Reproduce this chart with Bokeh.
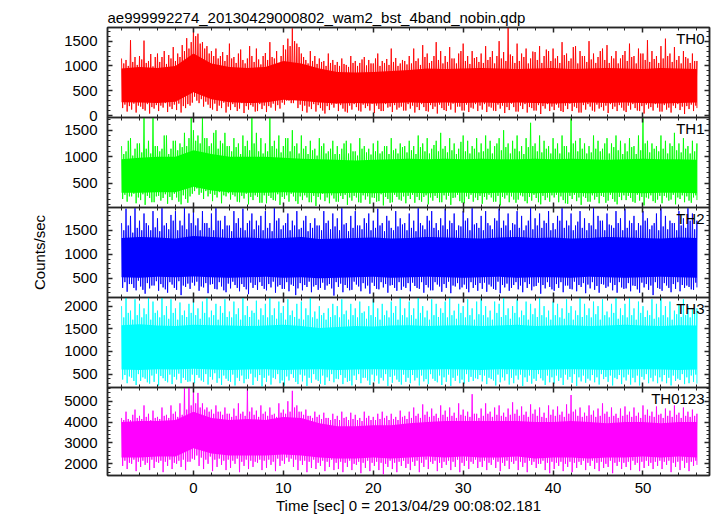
from bokeh.plotting import figure
from bokeh.models import Range1d, LinearAxis, SingleIntervalTicker, Label
from bokeh.layouts import column
from bokeh.embed import file_html
from bokeh.resources import INLINE

TITLE = "ae999992274_20130429000802_wam2_bst_4band_nobin.qdp"
X_LABEL = "Time [sec] 0 = 2013/04/29 00:08:02.181"
Y_LABEL = "Counts/sec"
BANDS = ["TH0", "TH1", "TH2", "TH3", "TH0123"]
COLORS = ["#ff0000", "#00ff00", "#0000ff", "#00ffff", "#ff00ff"]

# time sampling of the envelope values
T_START = -8.0
PEAK_STEP = 0.25
CORE_STEP = 2.0
X_RANGE = (-9.56, 57.4)
Y_RANGES = [(-40, 1775), (40, 1740), (100, 1975), (205, 2190), (1440, 5660)]
Y_TICK = [500, 500, 500, 500, 1000]

# ---- TH0 ----
th0_hi = [1150,1050,1120,1000,1520,1080,1180,1020,1200,1130,1510,1060,1100,1240,990,1180,
          1250,1080,1180,1300,1040,1220,1150,1380,1100,1250,1180,1420,1300,1560,1350,1480,
          1770,1600,1650,1450,1480,1350,1400,1250,1300,1200,1350,1150,1200,1280,1100,1220,
          1450,1150,1180,1060,1250,1330,1120,1050,1150,1400,1200,1080,1350,1130,1030,1200,
          1260,1120,1480,1180,1150,1300,1060,1200,1420,1330,1550,1400,1760,1500,1450,1380,
          1250,1180,1120,1050,1300,1100,1200,1040,1150,1080,1100,1000,1250,1060,1120,1020,
          1080,1000,1150,1040,1020,980,1200,1060,1100,1000,1060,1130,1180,1010,1120,1050,
          1050,1150,1250,1000,1100,1060,1140,1020,1350,1080,1160,1000,1050,1120,1100,1030,
          1200,1050,1350,1100,1150,1020,1420,1180,1250,1060,1100,1200,1480,1120,1300,1050,
          1200,1080,1380,1150,1150,1050,1250,1300,1450,1100,1200,1040,1300,1160,1180,1080,
          1250,1060,1400,1120,1180,1300,1050,1200,1500,1150,1280,1100,1770,1230,1200,1060,
          1450,1100,1250,1180,1350,1050,1150,1290,1280,1120,1400,1060,1200,1330,1300,1100,
          1350,1150,1200,1060,1480,1220,1250,1100,1150,1380,1400,1050,1300,1200,1200,1080,
          1500,1130,1250,1060,1180,1300,1350,1120,1420,1060,1200,1150,1300,1050,1150,1220,
          1300,1100,1450,1180,1200,1050,1350,1250,1250,1120,1520,1080,1300,1140,1200,1060,
          1400,1150,1550,1200,1250,1080,1380,1120,1200,1050,1300,1180,1150,1060,1250,1100,
          1100]
th0_lo = [150,220,80,190,120,240,60,200,180,130,100,230,40,170,140,210,
          90,200,160,250,70,180,130,220,110,240,60,190,150,230,200,260,
          380,300,250,330,180,280,220,150,120,240,90,200,150,260,60,180,
          110,230,170,90,140,250,50,190,120,210,180,80,90,230,130,200,
          70,190,160,240,100,210,140,260,220,300,300,250,250,330,150,220,
          90,200,60,180,130,230,80,210,150,100,40,190,110,220,160,240,
          90,210,140,80,60,200,120,230,170,100,80,220,150,190,100,240,
          50,200,130,90,90,230,160,180,70,210,120,160,180,100,100,230,
          140,200,60,170,110,230,170,90,80,210,130,180,40,220,150,110,
          90,200,120,240,60,180,180,100,100,220,70,160,140,230,90,200,
          120,230,70,180,160,100,90,220,140,200,50,170,110,240,170,80,
          80,200,130,230,60,170,150,100,100,210,30,190,140,230,90,180,
          110,220,160,90,70,200,130,240,90,180,150,60,60,210,120,230,
          180,100,80,220,140,170,100,200,50,230,130,180,90,210,160,100,
          70,200,120,230,150,100,90,190,40,220,140,170,100,230,160,80,
          80,210,120,160,60,200,150,230,110,180,30,190,130,220,90,200,
          150]
th0_core_hi = [950,980,960,1000,1250,1050,980,960,980,1100,1050,950,880,870,880,900,920,
               950,940,950,960,950,940,950,960,940,950,960,950,940,960,950,940]
th0_core_lo = [270,260,250,280,470,330,270,250,260,320,300,260,240,250,240,250,260,
               250,260,250,260,250,260,250,240,250,260,250,260,250,240,250,260]

# ---- TH1 ----
th1_hi = [1200,1050,1100,1300,1350,1020,1150,1250,1250,1080,1730,1150,1300,1060,1730,1200,
          1200,1100,1150,1400,1400,1050,1150,1300,1300,1120,1250,1180,1450,1200,1350,1730,
          1500,1300,1400,1250,1730,1350,1350,1200,1250,1450,1500,1150,1300,1250,1450,1200,
          1200,1100,1350,1180,1250,1050,1400,1200,1300,1120,1730,1250,1450,1100,1350,1060,
          1250,1100,1730,1200,1300,1150,1400,1080,1200,1350,1350,1100,1500,1200,1250,1060,
          1400,1150,1200,1050,1300,1120,1150,1020,1350,1200,1250,1060,1100,1150,1300,1050,
          1200,1050,1150,1250,1300,1060,1250,1100,1100,1020,1350,1150,1200,1080,1150,1040,
          1250,1100,1300,1060,1100,1200,1200,1050,1350,1120,1150,1060,1250,1180,1200,1080,
          1300,1120,1200,1050,1400,1180,1250,1100,1350,1060,1150,1220,1300,1100,1450,1150,
          1200,1080,1350,1120,1250,1050,1150,1280,1400,1100,1300,1060,1200,1150,1350,1080,
          1250,1100,1400,1150,1300,1060,1200,1250,1350,1120,1500,1180,1250,1060,1300,1150,
          1400,1100,1200,1050,1350,1180,1640,1200,1250,1100,1400,1080,1300,1150,1200,1060,
          1350,1150,1250,1060,1400,1200,1200,1080,1730,1250,1300,1100,1350,1150,1250,1060,
          1200,1080,1400,1150,1300,1100,1150,1250,1350,1060,1250,1180,1400,1120,1300,1050,
          1250,1100,1350,1180,1200,1050,1400,1120,1730,1250,1300,1080,1250,1150,1200,1100,
          1400,1150,1300,1060,1250,1200,1450,1120,1250,1080,1350,1150,1200,1060,1300,1100,
          1250]
th1_lo = [200,280,150,250,250,300,120,230,180,290,90,260,220,140,140,250,
          260,170,220,290,110,240,180,300,230,150,100,270,200,130,250,300,
          350,400,280,320,200,350,250,300,160,280,230,330,120,270,250,310,
          190,280,250,150,140,260,210,300,100,240,180,270,240,130,130,270,
          120,260,220,180,170,290,90,240,200,270,150,300,250,160,110,250,
          180,270,230,140,140,260,70,240,190,300,160,230,120,270,210,150,
          150,260,200,280,90,230,170,260,230,140,130,270,190,250,110,230,
          220,150,160,290,80,240,200,130,140,280,240,190,170,250,120,260,
          200,280,130,240,180,150,240,270,100,230,170,260,220,140,140,270,
          190,260,90,220,230,280,160,130,120,250,200,280,150,230,180,260,
          110,240,190,280,230,150,150,260,80,240,210,270,140,250,190,130,
          190,270,250,160,120,240,170,280,220,140,100,260,180,230,150,270,
          230,280,140,250,180,120,110,260,200,280,160,230,90,250,220,150,
          150,270,190,240,120,260,240,130,170,280,200,150,100,240,180,270,
          180,260,220,150,130,280,170,240,80,230,210,270,160,130,190,260,
          120,260,230,170,190,280,100,230,200,270,140,250,170,130,230,270,
          180]
th1_core_hi = [950,980,1000,1000,1120,1050,1000,1000,1000,980,960,950,940,930,940,950,960,
               950,960,950,960,950,950,960,950,960,950,940,950,960,950,950,940]
th1_core_lo = [320,320,330,330,430,360,330,320,320,330,320,310,310,320,310,320,320,
               310,320,320,310,320,320,310,320,320,310,320,320,310,320,320,310]

# ---- TH2 ----
th2_hi = [1650,1500,1950,1600,1800,1450,1960,1550,1700,1500,1850,1650,1600,1500,1900,1560,
          1750,1480,1960,1600,1650,1520,1820,1700,1900,1500,1700,1600,1960,1520,1850,1650,
          1960,1600,1750,1500,1900,1650,1650,1550,1850,1500,1960,1700,1700,1520,1800,1600,
          1600,1480,1900,1650,1750,1550,1950,1500,1650,1700,1850,1520,1700,1600,1800,1500,
          1900,1550,1650,1480,1960,1700,1750,1520,1600,1650,1850,1500,1700,1600,1900,1520,
          1550,1700,1800,1480,1650,1550,1750,1600,1600,1500,1900,1650,1700,1520,1850,1580,
          1750,1500,1960,1620,1650,1480,1800,1550,1900,1600,1600,1520,1750,1650,1850,1500,
          1700,1550,1950,1600,1650,1480,1800,1700,1550,1500,1900,1580,1750,1620,1650,1500,
          1850,1550,1700,1480,1960,1650,1600,1520,1800,1700,1900,1550,1650,1500,1750,1600,
          1950,1520,1700,1650,1850,1500,1600,1580,1900,1700,1750,1500,1960,1620,1650,1550,
          1800,1500,1900,1650,1600,1520,1750,1700,1950,1550,1700,1600,1850,1500,1650,1620,
          1900,1550,1800,1500,1600,1700,1960,1520,1750,1600,1850,1550,1700,1650,1900,1500,
          1650,1520,1800,1700,1960,1550,1700,1600,1850,1500,1600,1680,1900,1550,1750,1500,
          1650,1600,1960,1520,1800,1700,1700,1500,1850,1620,1600,1550,1900,1650,1750,1500,
          1950,1550,1700,1650,1800,1500,1650,1600,1900,1700,1750,1520,1600,1650,1850,1500,
          1960,1580,1800,1520,1700,1650,1650,1500,1900,1600,1750,1550,1960,1700,1850,1520,
          1700]
th2_lo = [300,420,220,380,380,300,250,450,330,260,180,400,290,350,350,440,
          240,380,310,270,200,420,370,300,260,440,150,350,320,390,280,410,
          350,430,240,330,310,400,190,370,380,280,270,420,330,250,210,390,
          290,430,360,300,230,380,320,270,170,410,300,360,260,420,340,280,
          250,380,310,430,200,330,360,280,280,420,230,370,340,150,290,400,
          250,360,320,430,210,330,360,260,300,410,260,350,380,290,140,420,
          320,390,210,360,300,250,260,430,370,330,230,400,290,350,180,410,
          340,280,270,420,310,380,200,350,360,300,240,420,260,330,300,400,
          230,410,340,300,280,420,200,360,310,250,250,420,370,330,220,380,
          300,430,190,350,330,400,270,310,370,280,210,420,300,360,240,400,
          280,410,220,370,330,280,260,430,190,360,310,390,240,300,360,420,
          270,350,210,420,300,380,250,330,340,410,180,360,290,420,320,270,
          240,380,300,420,210,350,350,280,270,430,230,360,320,400,190,370,
          290,420,260,340,200,380,370,300,330,410,250,360,200,420,310,280,
          290,400,230,350,340,270,200,410,310,380,260,350,150,420,300,280,
          240,400,350,300,210,380,280,420,230,360,300,350,320,270,260,410,
          310]
th2_core_hi = [1340,1360,1350,1330,1380,1360,1340,1350,1330,1340,1360,1320,1330,1340,1350,1330,1340,
               1360,1350,1340,1330,1350,1360,1340,1350,1330,1340,1360,1350,1340,1330,1350,1340]
th2_core_lo = [520,510,530,520,540,520,510,520,530,510,520,500,510,520,530,510,520,
               530,520,510,520,530,510,520,520,510,530,520,510,520,530,520,510]

# ---- TH3 ----
th3_hi = [2000,1750,2190,1850,1900,1700,2150,1800,2050,1750,1950,1820,2190,1700,2100,1850,
          1900,1750,2190,1800,2000,1720,2150,1850,1950,1700,2080,1800,1900,1760,2050,1850,
          2150,1800,1950,1720,2100,1850,2190,1750,1900,1800,2050,1700,2000,1850,2150,1760,
          1880,1750,2100,1820,1950,1700,2190,1800,2000,1760,1900,1850,2120,1700,1950,1800,
          2050,1750,2190,1800,1950,1720,2100,1850,2000,1700,2150,1800,1900,1760,2050,1720,
          2100,1700,1950,1800,2190,1750,1880,1720,2000,1800,1850,1700,1950,1760,2050,1800,
          2000,1750,2150,1820,1900,1700,2050,1800,1950,1750,2100,1850,1880,1720,2000,1800,
          2150,1760,1950,1700,2050,1800,1900,1750,2100,1850,2000,1700,2190,1800,1950,1750,
          2100,1800,1950,1720,2190,1850,2000,1750,1900,1700,2150,1800,2050,1760,1950,1850,
          2100,1750,2190,1800,1900,1720,2050,1850,2000,1750,2150,1800,1950,1700,2100,1820,
          2190,1800,2000,1750,1900,1700,2100,1850,2050,1760,2190,1800,1950,1720,2000,1850,
          2150,1750,1900,1800,2100,1700,2050,1820,1950,1760,2190,1800,2000,1750,1900,1700,
          2100,1800,2050,1750,1950,1720,2150,1850,2000,1700,1900,1800,2190,1760,2050,1800,
          1950,1750,2100,1820,2000,1700,2150,1800,1880,1750,2050,1850,2190,1720,1950,1800,
          2050,1750,2190,1800,1950,1700,2100,1850,2000,1760,1900,1800,2150,1720,2050,1750,
          2190,1800,2000,1750,2100,1700,1900,1820,2050,1760,2150,1800,2000,1750,1950,1850,
          1950]
th3_lo = [380,480,300,450,420,350,260,500,350,430,400,320,290,470,330,510,
          250,460,410,350,320,490,280,440,380,510,300,420,370,330,340,490,
          300,480,420,360,330,500,270,440,380,520,310,410,260,470,400,350,
          330,490,250,420,350,470,300,390,400,510,260,430,350,480,230,420,
          330,470,270,420,390,500,300,360,250,450,360,500,420,330,280,490,
          340,470,240,420,310,500,380,350,290,470,260,430,350,500,320,400,
          390,480,280,420,330,350,250,470,370,500,300,420,420,360,260,490,
          340,470,290,420,360,500,240,440,310,470,380,330,270,490,330,420,
          300,480,360,420,250,470,340,390,280,500,400,350,320,470,260,430,
          330,490,240,420,350,470,300,380,290,500,330,440,350,410,390,480,
          340,470,280,420,390,360,250,490,320,430,360,500,270,420,300,470,
          380,490,240,430,330,470,290,400,350,500,410,360,260,470,320,430,
          290,470,350,420,260,490,380,440,310,500,240,430,340,470,310,400,
          360,480,320,430,270,500,390,440,330,470,250,420,390,480,280,430,
          360,490,270,420,320,470,250,440,380,500,300,420,340,470,300,430,
          340,480,300,420,250,470,350,400,370,500,280,430,300,470,330,490,
          290]
th3_core_hi = [1580,1600,1570,1560,1590,1580,1570,1560,1570,1590,1560,1520,1540,1560,1550,1570,1580,
               1560,1570,1580,1560,1570,1590,1560,1570,1580,1560,1570,1590,1570,1560,1580,1570]
th3_core_lo = [600,590,610,600,620,600,590,600,610,590,600,610,590,600,610,600,590,
               600,610,600,590,610,600,590,600,610,600,590,600,610,600,590,600]

# ---- TH0123 ----
th0123_hi = [4200,4100,4500,4150,4100,4350,4600,4200,4300,4150,4800,4250,4400,4100,4550,4200,
             4250,4150,4700,4300,4350,4200,4800,4400,4500,4250,4900,4350,5660,4600,5660,4800,
             5660,4900,5400,4700,4900,4600,4700,4500,4600,4400,4800,4500,4500,4350,4700,4400,
             4400,4250,4650,4300,4900,4400,4500,4300,5600,4500,4700,4350,4550,4250,4800,4400,
             4500,4300,4700,4350,4400,4250,4900,4450,4600,4400,5000,4500,5500,4700,4800,4500,
             4500,4350,4600,4300,4300,4200,4500,4250,4350,4150,4450,4200,4200,4100,4400,4150,
             4300,4100,4500,4200,4250,4100,4450,4150,4350,4100,4200,4050,4500,4200,4300,4100,
             4250,4100,4400,4150,4500,4200,4300,4100,4400,4150,4250,4100,4550,4250,4300,4150,
             4500,4200,4700,4300,4400,4200,4850,4350,4500,4250,4650,4300,4400,4200,4800,4350,
             4550,4250,4700,4300,4450,4200,4900,4350,4600,4300,4500,4250,5340,4400,4400,4200,
             4650,4300,4900,4400,4500,4250,4700,4350,4800,4300,4450,4250,4650,4350,4950,4400,
             4600,4300,4750,4350,4500,4250,4850,4400,4600,4300,4700,4250,4450,4200,4800,4350,
             4600,4300,4750,4350,4500,4250,4850,4400,5300,4500,4600,4300,4700,4250,4450,4300,
             4800,4350,4550,4250,4650,4300,4900,4400,4500,4250,4700,4300,4400,4200,4650,4300,
             4750,4350,4500,4250,4700,4300,4450,4200,4800,4350,4600,4300,4500,4250,4750,4350,
             4400,4200,4650,4300,4550,4250,4800,4350,4450,4200,4700,4300,4500,4250,4600,4300,
             4400]
th0123_lo = [1900,2150,1750,2050,2000,2200,1650,2100,1850,2150,1950,2050,1700,2200,1800,2100,
             2050,2150,1600,2100,1900,2200,1750,2050,2000,2150,1850,2200,1700,2100,2100,2250,
             2200,2400,1900,2300,1750,2200,2000,2350,1650,2200,1850,2250,1950,2150,1700,2200,
             1800,2150,2000,2250,1600,2100,1900,2200,1750,2150,1850,2100,2050,2200,1700,2150,
             1800,2200,1950,2100,1650,2250,1900,2150,2000,2300,2100,2250,1850,2200,1700,2150,
             1950,2150,1600,2100,1800,2200,1750,2050,1900,2150,1650,2100,1850,2200,1700,2050,
             1750,2100,1600,2050,1850,2150,1700,2000,1950,2100,1550,2050,1800,2150,1650,2050,
             1900,2100,1700,2050,1500,2000,1850,2150,1750,2050,1600,2100,1900,2150,1800,2000,
             1700,2100,1900,2150,1600,2050,1850,2200,1750,2100,2000,2150,1650,2050,1800,2100,
             1950,2150,1700,2100,1850,2200,1600,2050,1900,2150,1750,2100,2000,2200,1800,2100,
             1850,2150,1700,2050,1950,2200,1800,2100,1650,2050,1900,2150,1750,2100,2000,2150,
             1700,2100,1850,2050,1600,2150,1950,2100,1800,2000,2000,2150,1700,2050,1550,2100,
             1750,2050,1900,2100,1650,2000,1850,2100,1600,2050,1800,2100,1950,2150,1700,2050,
             1900,2150,1750,2050,1650,2100,1800,2000,1850,2150,1550,2050,1900,2100,1750,2050,
             1850,2100,1700,2150,1950,2050,1650,2100,1800,2150,1900,2050,1750,2100,1900,2150,
             1750,2100,1950,2150,1600,2050,1850,2100,1700,2150,1800,2050,1650,2100,1900,2150,
             1950]
th0123_core_hi = [4000,4050,4050,4100,4500,4200,4100,4150,4100,4250,4200,3950,3800,3800,3850,3850,3950,
                  4000,4050,4050,4050,4050,4050,4000,4000,4050,4000,3950,4000,4000,3950,4000,4000]
th0123_core_lo = [2300,2300,2350,2350,2750,2500,2400,2400,2400,2450,2400,2300,2250,2250,2300,2250,2300,
                  2350,2300,2350,2300,2300,2350,2250,2300,2300,2250,2300,2300,2350,2300,2350,2300]

SERIES = [
    (th0_hi, th0_lo, th0_core_hi, th0_core_lo),
    (th1_hi, th1_lo, th1_core_hi, th1_core_lo),
    (th2_hi, th2_lo, th2_core_hi, th2_core_lo),
    (th3_hi, th3_lo, th3_core_hi, th3_core_lo),
    (th0123_hi, th0123_lo, th0123_core_hi, th0123_core_lo),
]

FONT = "Liberation Sans"
FS = "15px"
AX_COLOR = "#262626"
OVERLAP = 7


def style_axis(ax, ticker, show_labels, standoff):
    ax.ticker = ticker
    ax.major_tick_in = 5
    ax.major_tick_out = 0
    ax.minor_tick_in = 3
    ax.minor_tick_out = 0
    ax.axis_line_color = AX_COLOR
    ax.axis_line_width = 1.5
    ax.major_tick_line_color = AX_COLOR
    ax.major_tick_line_width = 1.5
    ax.minor_tick_line_color = AX_COLOR
    if show_labels:
        ax.major_label_text_font = FONT
        ax.major_label_text_font_size = FS
        ax.major_label_text_color = "black"
        ax.major_label_standoff = standoff
    else:
        ax.major_label_text_font_size = "0px"
        ax.major_label_text_alpha = 0
        ax.major_label_standoff = 0


xr = Range1d(*X_RANGE)
frame_h = [90, 90, 90, 90, 89]
figs = []
for k in range(5):
    hi, lo, chi, clo = SERIES[k]
    yr = Range1d(*Y_RANGES[k])
    top = 27 if k == 0 else 0
    bottom = 40 if k == 4 else OVERLAP
    p = figure(width=712, height=top + frame_h[k] + bottom, x_range=xr, y_range=yr,
               output_backend="svg", toolbar_location=None,
               x_axis_location=None, y_axis_location=None,
               min_border_left=107, min_border_right=3,
               min_border_top=top, min_border_bottom=bottom,
               margin=(0 if k == 0 else -OVERLAP, 0, 0, 0))
    p.grid.visible = False
    p.outline_line_color = AX_COLOR
    p.outline_line_width = 1.5
    p.background_fill_color = "white"
    p.border_fill_alpha = 0

    xt = SingleIntervalTicker(interval=10, num_minor_ticks=5)
    yt = SingleIntervalTicker(interval=Y_TICK[k], num_minor_ticks=5)

    left = LinearAxis()
    style_axis(left, yt, True, 10)
    if k == 2:
        left.axis_label = Y_LABEL
        left.axis_label_text_font = FONT
        left.axis_label_text_font_size = FS
        left.axis_label_text_font_style = "normal"
        left.axis_label_text_color = "black"
        left.axis_label_standoff = 13
    p.add_layout(left, "left")
    right = LinearAxis()
    style_axis(right, yt, False, 0)
    p.add_layout(right, "right")
    above = LinearAxis()
    style_axis(above, xt, False, 0)
    p.add_layout(above, "above")
    below = LinearAxis()
    style_axis(below, xt, k == 4, 7)
    if k == 4:
        below.axis_label = X_LABEL
        below.axis_label_text_font = FONT
        below.axis_label_text_font_size = FS
        below.axis_label_text_font_style = "normal"
        below.axis_label_text_color = "black"
        below.axis_label_standoff = 1
    p.add_layout(below, "below")

    if k == 0:
        p.title.text = TITLE
        p.title.align = "left"
        p.title.text_font = FONT
        p.title.text_font_size = FS
        p.title.text_font_style = "normal"
        p.title.text_color = "black"
        p.title.standoff = 3

    core_t = [T_START + CORE_STEP * i for i in range(len(chi))]
    p.varea(x=core_t, y1=clo, y2=chi, fill_color=COLORS[k])

    xs, ys = [], []
    n = min(len(hi), len(lo))
    for i in range(n):
        t = T_START + PEAK_STEP * i
        xs.append(t)
        ys.append(hi[i])
        xs.append(t + PEAK_STEP / 2 if i < n - 1 else t)
        ys.append(lo[i])
    p.line(xs, ys, line_color=COLORS[k], line_width=1, line_alpha=0.9)

    p.add_layout(Label(x=X_RANGE[1], y=Y_RANGES[k][1], x_offset=-5, y_offset=-2,
                       text=BANDS[k], text_align="right", text_baseline="top",
                       text_font=FONT, text_font_size=FS, text_color="black"))
    figs.append(p)

layout = column(*figs, spacing=0)
open("out.html", "w").write(file_html(layout, INLINE))
